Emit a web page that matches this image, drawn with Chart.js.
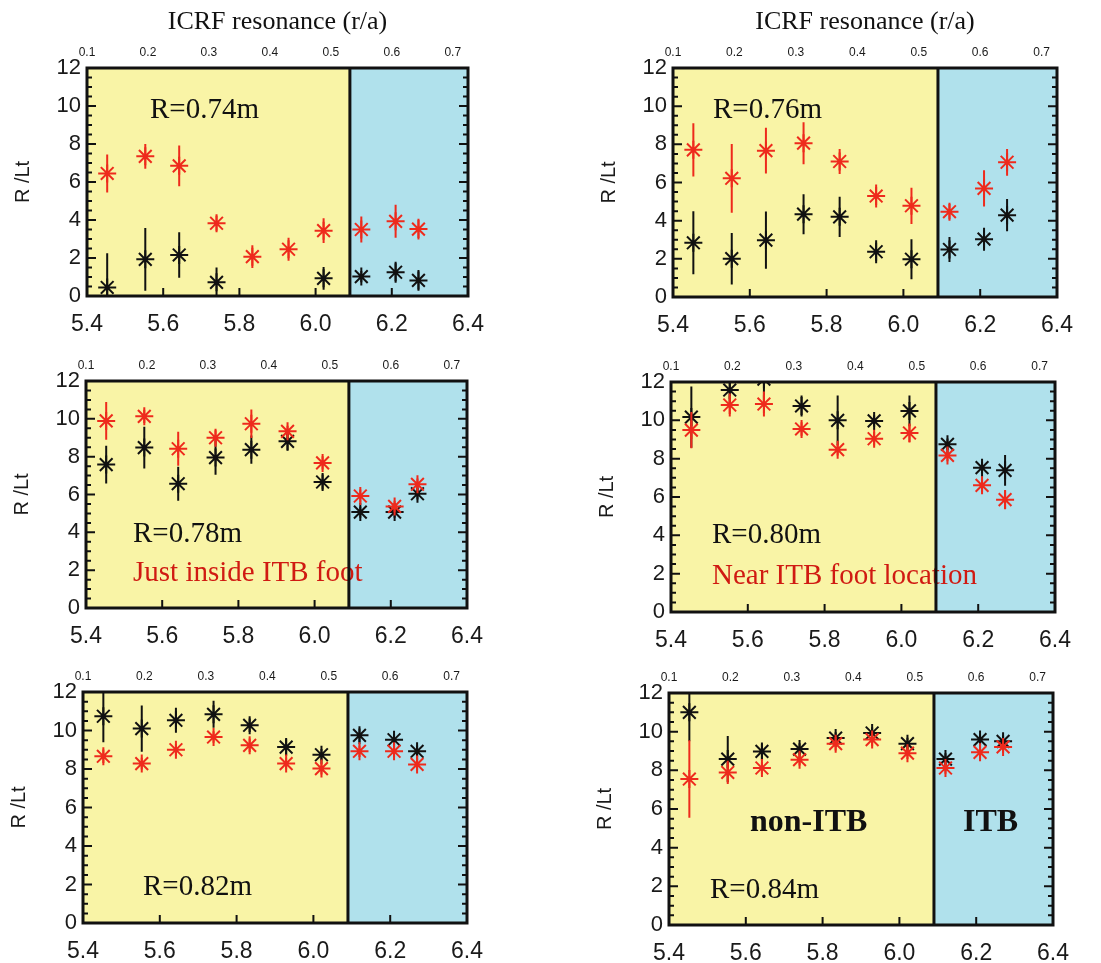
<!DOCTYPE html>
<html>
<head>
<meta charset="utf-8">
<script src="https://cdn.jsdelivr.net/npm/chart.js@4.4.1/dist/chart.umd.min.js"></script>
<style>
  html, body { margin: 0; padding: 0; background: #fff; }
  #page { position: relative; width: 1101px; height: 963px; overflow: hidden; }
  #page canvas { position: absolute; }
</style>
</head>
<body>
<div id="page"></div>
<script>
// ICRF resonance major radius (m) of each measurement, shared by all panels
const resonanceR = [5.453, 5.553, 5.642, 5.740, 5.834, 5.929, 6.021, 6.120, 6.210, 6.270];

// axis ticks
const bottomTicks = [5.4, 5.6, 5.8, 6.0, 6.2, 6.4];
const topTicks = [0.1, 0.2, 0.3, 0.4, 0.5, 0.6, 0.7];
const yTicks = [0, 2, 4, 6, 8, 10, 12];
const itbBoundary = 6.09;

// R/Lt at R=0.74m
const red074 = [6.45, 7.35, 6.85, 3.83, 2.07, 2.46, 3.44, 3.50, 3.93, 3.52];
const red074Err = [1.0, 0.65, 1.07, 0.4, 0.6, 0.6, 0.65, 0.68, 0.87, 0.55];
const black074 = [0.45, 1.93, 2.16, 0.72, null, null, 0.93, 1.02, 1.25, 0.82];
const black074Err = [1.8, 1.65, 1.2, 0.78, null, null, 0.6, 0.3, 0.55, 0.55];

// R/Lt at R=0.76m
const red076 = [7.71, 6.22, 7.67, 8.06, 7.10, 5.29, 4.78, 4.47, 5.69, 7.06];
const red076Err = [1.4, 1.8, 1.2, 1.1, 0.65, 0.6, 0.95, 0.4, 0.95, 0.7];
const black076 = [2.84, 2.01, 2.98, 4.34, 4.20, 2.37, 1.98, 2.49, 3.03, 4.29];
const black076Err = [1.65, 1.35, 1.5, 1.05, 1.05, 0.6, 1.05, 0.65, 0.6, 0.85];

// R/Lt at R=0.78m
const red078 = [9.89, 10.13, 8.42, 9.0, 9.74, 9.34, 7.67, 5.92, 5.37, 6.54];
const red078Err = [1.0, 0.35, 0.9, 0.4, 0.75, 0.3, 0.35, 0.35, 0.3, 0.3];
const black078 = [7.58, 8.48, 6.57, 7.95, 8.37, 8.81, 6.66, 5.07, 5.07, 6.04];
const black078Err = [1.0, 1.1, 0.9, 0.9, 0.75, 0.5, 0.4, 0.3, 0.3, 0.3];

// R/Lt at R=0.80m
const red080 = [9.49, 10.8, 10.85, 9.55, 8.47, 9.04, 9.34, 8.17, 6.61, 5.86];
const red080Err = [0.95, 0.6, 0.65, 0.35, 0.3, 0.35, 0.5, 0.3, 0.35, 0.5];
const black080 = [10.17, 11.58, 12.15, 10.75, 10.0, 9.97, 10.49, 8.75, 7.53, 7.39];
const black080Err = [1.6, 0.7, 1.15, 0.55, 1.3, 0.3, 0.8, 0.3, 0.3, 0.8];

// R/Lt at R=0.82m
const red082 = [8.66, 8.28, 9.0, 9.66, 9.23, 8.28, 8.02, 8.92, 8.92, 8.24];
const red082Err = [0.35, 0.3, 0.3, 0.3, 0.35, 0.3, 0.3, 0.3, 0.3, 0.3];
const black082 = [10.74, 10.10, 10.53, 10.84, 10.27, 9.14, 8.74, 9.75, 9.52, 8.92];
const black082Err = [1.35, 1.2, 0.65, 0.7, 0.35, 0.4, 0.3, 0.35, 0.3, 0.3];

// R/Lt at R=0.84m
const red084 = [7.55, 7.89, 8.12, 8.55, 9.38, 9.59, 8.89, 8.12, 8.93, 9.21];
const red084Err = [2.0, 0.6, 0.3, 0.3, 0.35, 0.35, 0.3, 0.3, 0.3, 0.3];
const black084 = [11.0, 8.58, 8.98, 9.10, 9.67, 9.93, 9.38, 8.58, 9.59, 9.50];
const black084Err = [1.5, 1.2, 0.4, 0.3, 0.3, 0.3, 0.3, 0.3, 0.3, 0.3];

// colours
const redColor = '#ee2a1c';
const blackColor = '#111111';
const yellowBg = '#f9f4a6';
const blueBg = '#b0e1ec';

// axis box sizes around each plot area
const YW = 80, TH = 62, BH = 50, PR = 30;

// frame = [left, top, right, bottom] of each plot area on the page
const panels = [
  { frame: [87, 68, 468, 296], title: true, red: red074, redErr: red074Err, black: black074, blackErr: black074Err,
    notes: [{ text: 'R=0.74m', dx: 63, dy: 42 }] },
  { frame: [673, 68, 1057, 297], title: true, red: red076, redErr: red076Err, black: black076, blackErr: black076Err,
    notes: [{ text: 'R=0.76m', dx: 40, dy: 42 }] },
  { frame: [86, 381, 467, 608], title: false, red: red078, redErr: red078Err, black: black078, blackErr: black078Err,
    notes: [{ text: 'R=0.78m', dx: 47, dy: 153 },
            { text: 'Just inside ITB foot', dx: 47, dy: 192, color: '#d01a12' }] },
  { frame: [671, 382, 1055, 612], title: false, red: red080, redErr: red080Err, black: black080, blackErr: black080Err,
    notes: [{ text: 'R=0.80m', dx: 41, dy: 153 },
            { text: 'Near ITB foot location', dx: 41, dy: 194, color: '#d01a12' }] },
  { frame: [83, 692, 467, 923], title: false, red: red082, redErr: red082Err, black: black082, blackErr: black082Err,
    notes: [{ text: 'R=0.82m', dx: 60, dy: 195 }] },
  { frame: [669, 693, 1053, 925], title: false, red: red084, redErr: red084Err, black: black084, blackErr: black084Err,
    notes: [{ text: 'R=0.84m', dx: 41, dy: 197 },
            { text: 'non-ITB', dx: 81, dy: 130, weight: 'bold', size: 32 },
            { text: 'ITB', dx: 294, dy: 130, weight: 'bold', size: 32 }] }
];

// points as {x, y}, skipping missing ones
function toPoints(vals) {
  const pts = [];
  vals.forEach((v, i) => { if (v != null) pts.push({ x: resonanceR[i], y: v }); });
  return pts;
}

// vertical error bar segments, separated by gaps
function errorSegments(vals, errs) {
  const pts = [];
  vals.forEach((v, i) => {
    if (v == null) return;
    pts.push({ x: resonanceR[i], y: v - errs[i] });
    pts.push({ x: resonanceR[i], y: v + errs[i] });
    pts.push({ x: resonanceR[i], y: null });
  });
  return pts;
}

// background regions, inward ticks, text notes, frame
const panelFrame = {
  id: 'panelFrame',
  beforeDatasetsDraw(chart) {
    const { ctx, chartArea: a, scales } = chart;
    const xb = scales.x.getPixelForValue(itbBoundary);
    ctx.save();
    ctx.fillStyle = yellowBg;
    ctx.fillRect(a.left, a.top, xb - a.left, a.bottom - a.top);
    ctx.fillStyle = blueBg;
    ctx.fillRect(xb, a.top, a.right - xb, a.bottom - a.top);

    // inward tick marks
    ctx.strokeStyle = blackColor;
    ctx.lineWidth = 2;
    ctx.beginPath();
    yTicks.forEach((t, i) => {
      const py = scales.y.getPixelForValue(t);
      ctx.moveTo(a.left, py); ctx.lineTo(a.left + 9, py);
      ctx.moveTo(a.right, py); ctx.lineTo(a.right - 9, py);
      if (i < yTicks.length - 1) {
        for (let k = 1; k < 4; k++) {
          const pm = scales.y.getPixelForValue(t + k * 0.5);
          ctx.moveTo(a.left, pm); ctx.lineTo(a.left + 5, pm);
          ctx.moveTo(a.right, pm); ctx.lineTo(a.right - 5, pm);
        }
      }
    });
    bottomTicks.forEach(t => {
      const px = scales.x.getPixelForValue(t);
      ctx.moveTo(px, a.bottom); ctx.lineTo(px, a.bottom - 8);
    });
    ctx.stroke();

    // text notes
    const notes = chart.options.plugins.panelFrame.notes;
    ctx.textAlign = 'left';
    ctx.textBaseline = 'middle';
    notes.forEach(n => {
      ctx.fillStyle = n.color || blackColor;
      ctx.font = (n.weight || 'normal') + ' ' + (n.size || 29) + 'px "Liberation Serif", serif';
      ctx.fillText(n.text, a.left + n.dx, a.top + n.dy);
    });
    ctx.restore();
  },
  afterDatasetsDraw(chart) {
    const { ctx, chartArea: a, scales } = chart;
    const xb = scales.x.getPixelForValue(itbBoundary);
    ctx.save();
    ctx.strokeStyle = blackColor;
    ctx.lineWidth = 3;
    ctx.strokeRect(a.left, a.top, a.right - a.left, a.bottom - a.top);
    ctx.beginPath();
    ctx.moveTo(xb, a.top); ctx.lineTo(xb, a.bottom);
    ctx.stroke();
    ctx.restore();
  }
};

const page = document.getElementById('page');

panels.forEach(p => {
  const [l, t, r, b] = p.frame;
  const w = (r - l) + YW + PR;
  const h = TH + (b - t) + BH;
  const canvas = document.createElement('canvas');
  canvas.width = w; canvas.height = h;
  canvas.style.width = w + 'px'; canvas.style.height = h + 'px';
  canvas.style.left = (l - YW) + 'px';
  canvas.style.top = (t - TH) + 'px';
  page.appendChild(canvas);

  new Chart(canvas, {
    type: 'scatter',
    data: {
      datasets: [
        { data: toPoints(p.red), pointStyle: 'star', pointRadius: 9, borderWidth: 2,
          borderColor: redColor, backgroundColor: redColor, showLine: false, clip: 0 },
        { data: errorSegments(p.red, p.redErr), showLine: true, spanGaps: false, pointRadius: 0,
          borderWidth: 2, borderColor: redColor, clip: 0 },
        { data: toPoints(p.black), pointStyle: 'star', pointRadius: 9, borderWidth: 2,
          borderColor: blackColor, backgroundColor: blackColor, showLine: false, clip: 0 },
        { data: errorSegments(p.black, p.blackErr), showLine: true, spanGaps: false, pointRadius: 0,
          borderWidth: 2, borderColor: blackColor, clip: 0 }
      ]
    },
    options: {
      responsive: false,
      animation: false,
      layout: { padding: { left: 0, right: PR, top: 0, bottom: 0 } },
      plugins: {
        legend: { display: false },
        tooltip: { enabled: false },
        panelFrame: { notes: p.notes }
      },
      scales: {
        x: {
          type: 'linear', position: 'bottom', min: 5.4, max: 6.4,
          afterBuildTicks: s => { s.ticks = bottomTicks.map(v => ({ value: v })); },
          afterFit: s => { s.height = BH; s.paddingLeft = 0; s.paddingRight = 0; },
          grid: { display: false, drawTicks: false },
          border: { display: false },
          ticks: { font: { family: 'Liberation Sans', size: 23 }, color: '#1a1a1a', padding: 15,
                   maxRotation: 0, autoSkip: false, callback: v => Number(v).toFixed(1) }
        },
        top: {
          type: 'linear', position: 'top', min: 0.1, max: 0.725,
          afterBuildTicks: s => { s.ticks = topTicks.map(v => ({ value: v })); },
          afterFit: s => { s.height = TH; s.paddingLeft = 0; s.paddingRight = 0; },
          grid: { display: false, drawTicks: false },
          border: { display: false },
          title: { display: p.title, text: 'ICRF resonance (r/a)', color: '#111',
                   font: { family: 'Liberation Serif', size: 26 }, padding: { top: 1, bottom: 0 } },
          ticks: { font: { family: 'Liberation Sans', size: 12 }, color: '#1a1a1a', padding: 8,
                   maxRotation: 0, autoSkip: false, callback: v => Number(v).toFixed(1) }
        },
        y: {
          type: 'linear', position: 'left', min: 0, max: 12,
          afterBuildTicks: s => { s.ticks = yTicks.map(v => ({ value: v })); },
          afterFit: s => { s.width = YW; s.paddingTop = 0; s.paddingBottom = 0; },
          grid: { display: false, drawTicks: false },
          border: { display: false },
          title: { display: true, text: 'R /Lt', color: '#1a1a1a',
                   font: { family: 'Liberation Sans', size: 20 }, padding: { top: 4, bottom: 0 } },
          ticks: { font: { family: 'Liberation Sans', size: 22 }, color: '#1a1a1a', padding: 6,
                   autoSkip: false }
        }
      }
    },
    plugins: [panelFrame]
  });
});
</script>
</body>
</html>
